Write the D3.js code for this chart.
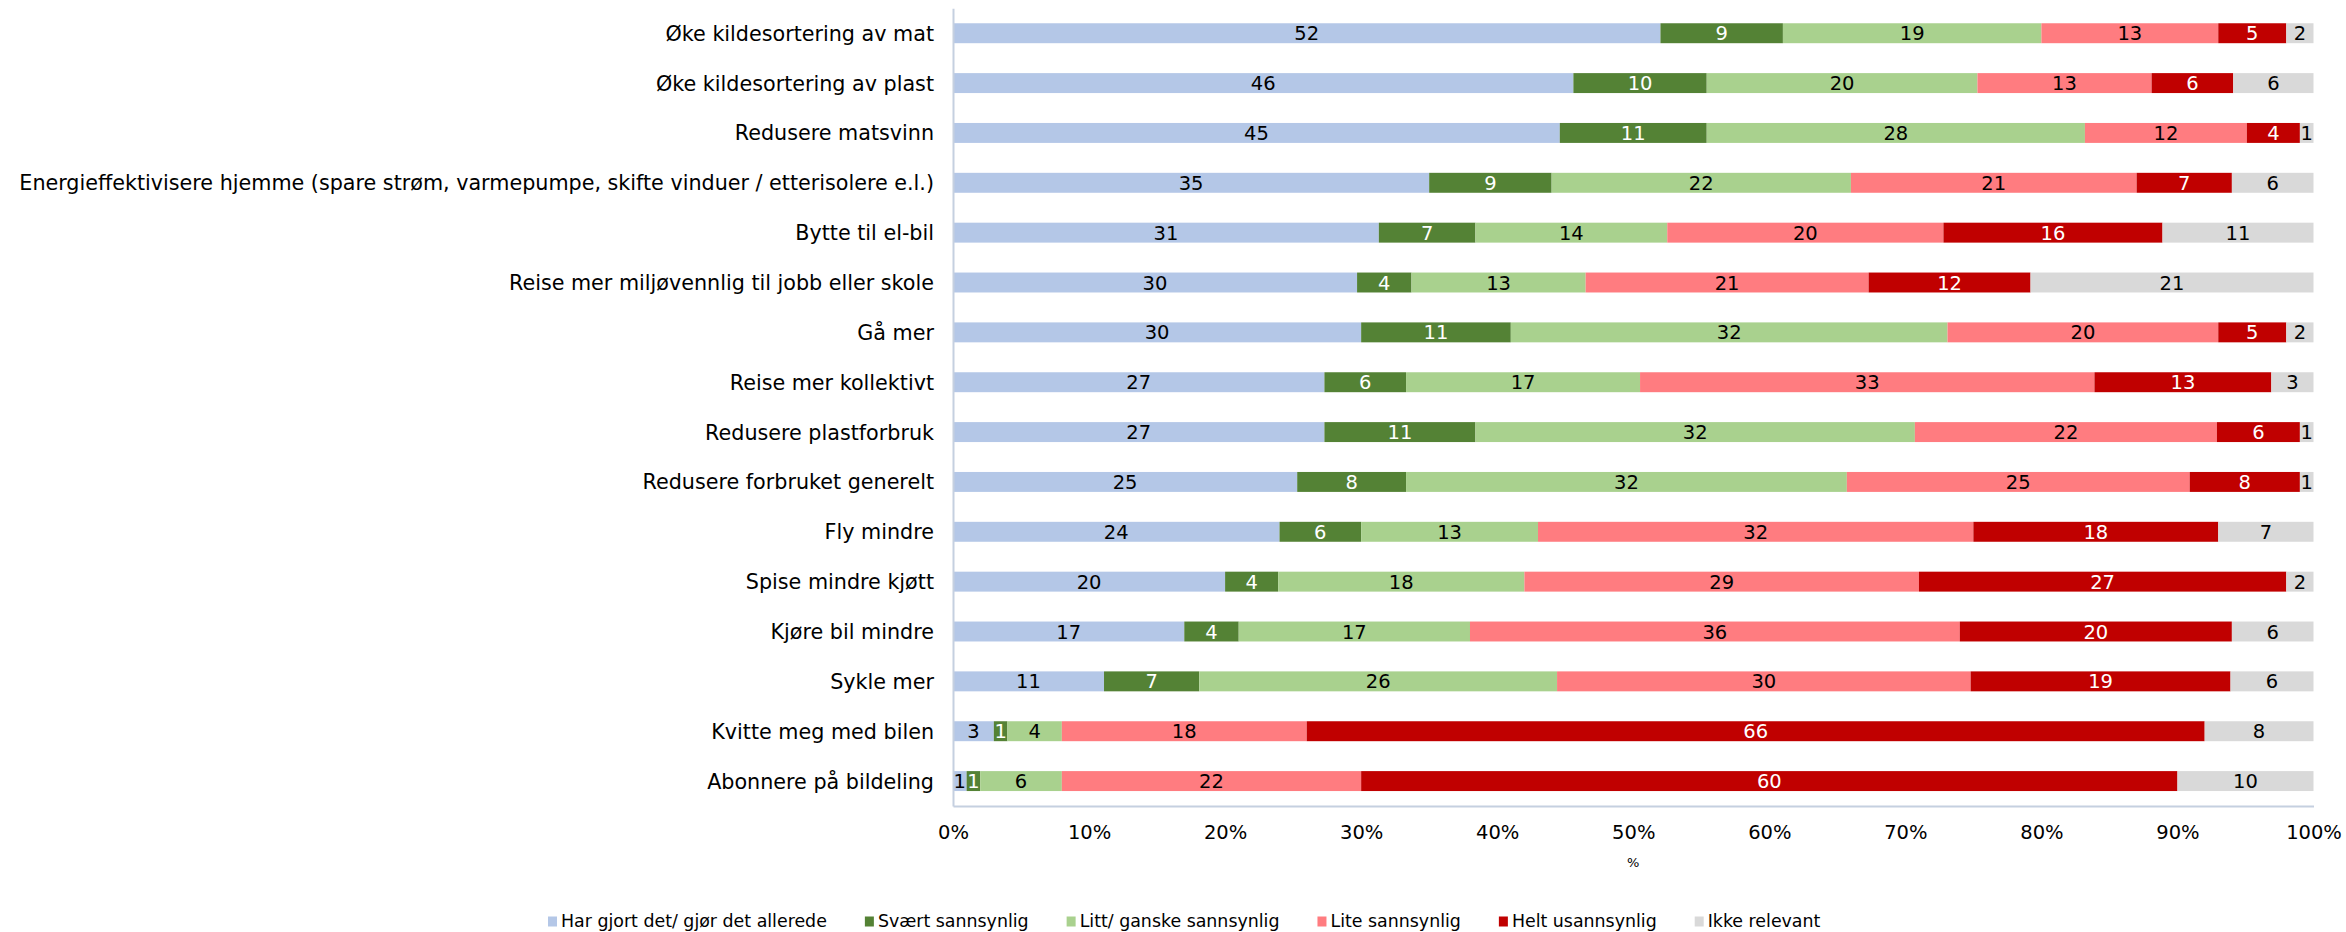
<!DOCTYPE html>
<html>
<head>
<meta charset="utf-8">
<script src="https://cdn.jsdelivr.net/npm/d3@7"></script>
<style>
  html, body { margin: 0; padding: 0; background: #ffffff; }
  svg { display: block; }
  text { font-family: "DejaVu Sans", "Noto Sans", sans-serif; fill: #000; }
</style>
</head>
<body>
<svg id="chart" width="2346" height="932"></svg>
<script>
const categories = [
  "Øke kildesortering av mat",
  "Øke kildesortering av plast",
  "Redusere matsvinn",
  "Energieffektivisere hjemme (spare strøm, varmepumpe, skifte vinduer / etterisolere e.l.)",
  "Bytte til el-bil",
  "Reise mer miljøvennlig til jobb eller skole",
  "Gå mer",
  "Reise mer kollektivt",
  "Redusere plastforbruk",
  "Redusere forbruket generelt",
  "Fly mindre",
  "Spise mindre kjøtt",
  "Kjøre bil mindre",
  "Sykle mer",
  "Kvitte meg med bilen",
  "Abonnere på bildeling"
];
const seriesNames = [
  "Har gjort det/ gjør det allerede",
  "Svært sannsynlig",
  "Litt/ ganske sannsynlig",
  "Lite sannsynlig",
  "Helt usannsynlig",
  "Ikke relevant"
];
const harGjort        = [52, 45.6, 44.6, 35, 31.3, 29.7, 30, 27.3, 27.3, 25.3, 24, 20, 17, 11.1, 3, 1];
const svaertSannsynlig = [9, 9.8, 10.8, 9, 7.1, 4.0, 11, 6.0, 11.1, 8.0, 6, 3.9, 4, 7.0, 1, 1];
const littSannsynlig  = [19, 19.9, 27.8, 22, 14.1, 12.8, 32.1, 17.2, 32.3, 32.4, 13, 18.1, 17, 26.3, 4, 6];
const liteSannsynlig  = [13, 12.8, 11.9, 21, 20.3, 20.8, 19.9, 33.4, 22.2, 25.2, 32, 29, 36, 30.4, 18, 22];
const heltUsannsynlig = [5, 6.0, 3.9, 7, 16.1, 11.9, 5, 13.0, 6.1, 8.1, 18, 27, 20, 19.1, 66, 60];
const ikkeRelevant    = [2, 5.9, 1.0, 6, 11.1, 20.8, 2, 3.1, 1.0, 1.0, 7, 2, 6, 6.1, 8, 10];
const xTicks = [0, 10, 20, 30, 40, 50, 60, 70, 80, 90, 100];

const colors = ["#B4C7E7", "#548235", "#A9D18E", "#FF7C80", "#C00000", "#D9D9D9"];
const labelColors = ["#000", "#fff", "#000", "#000", "#fff", "#000"];

const seriesValues = [harGjort, svaertSannsynlig, littSannsynlig, liteSannsynlig, heltUsannsynlig, ikkeRelevant];
const keys = seriesNames;
const table = categories.map((c, i) => {
  const row = { category: c };
  keys.forEach((k, j) => { row[k] = seriesValues[j][i]; });
  return row;
});

const svg = d3.select("#chart");
const x = d3.scaleLinear().domain([0, 100]).range([953, 2313.5]);
const y = d3.scaleBand().domain(categories).range([8.3, 806]).paddingInner(0.6).paddingOuter(0.3);
const color = d3.scaleOrdinal().domain(keys).range(colors);
const lblColor = d3.scaleOrdinal().domain(keys).range(labelColors);

const stacked = d3.stack().keys(keys)(table);

const gSeries = svg.append("g").selectAll("g").data(stacked).join("g")
  .attr("fill", d => color(d.key));
gSeries.selectAll("rect").data(d => d).join("rect")
  .attr("x", d => x(d[0]))
  .attr("y", d => y(d.data.category))
  .attr("width", d => x(d[1]) - x(d[0]))
  .attr("height", y.bandwidth());

const gLabels = svg.append("g").selectAll("g").data(stacked).join("g");
gLabels.selectAll("text").data(d => d.map(p => ({ p, key: d.key }))).join("text")
  .attr("x", d => (x(d.p[0]) + x(d.p[1])) / 2)
  .attr("y", d => y(d.p.data.category) + y.bandwidth() / 2)
  .attr("dy", "0.36em")
  .attr("text-anchor", "middle")
  .style("font-size", "19.5px")
  .style("fill", d => lblColor(d.key))
  .text(d => Math.round(d.p[1] - d.p[0]));

// Y axis
const yAxis = svg.append("g").attr("transform", "translate(953,0)")
  .call(d3.axisLeft(y).tickSize(0).tickSizeOuter(0).tickPadding(19));
yAxis.select(".domain").attr("stroke", "#C5D0E0").attr("stroke-width", 2);
yAxis.selectAll("text").style("font-size", "20.7px").attr("fill", "#000")
  .style("font-family", '"DejaVu Sans", sans-serif').attr("dy", "0.36em");

// X axis
const xAxis = svg.append("g").attr("transform", "translate(0,806)")
  .call(d3.axisBottom(x).tickValues(xTicks).tickFormat(d => d + "%").tickSize(0).tickSizeOuter(0));
xAxis.select(".domain").attr("stroke", "#C5D0E0").attr("stroke-width", 2);
xAxis.selectAll("text").style("font-size", "19.5px").attr("fill", "#000")
  .style("font-family", '"DejaVu Sans", sans-serif')
  .attr("y", 33).attr("dy", "0");

// Axis title
svg.append("text")
  .attr("x", (x(0) + x(100)) / 2)
  .attr("y", 867)
  .attr("text-anchor", "middle")
  .style("font-size", "13px")
  .text("%");

// Legend
const legend = svg.append("g");
let lx = 548;
keys.forEach((k) => {
  legend.append("rect").attr("x", lx).attr("y", 916.5).attr("width", 9).attr("height", 10).attr("fill", color(k));
  const t = legend.append("text").attr("x", lx + 13).attr("y", 927).style("font-size", "17.4px").text(k);
  const w = t.node().getComputedTextLength();
  lx = lx + 13 + w + 38;
});
</script>
</body>
</html>
